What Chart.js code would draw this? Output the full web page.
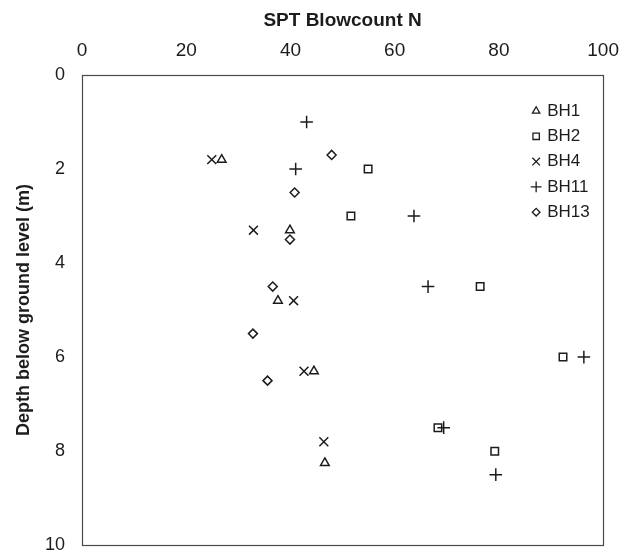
<!DOCTYPE html>
<html>
<head>
<meta charset="utf-8">
<script src="https://cdn.jsdelivr.net/npm/chart.js@4/dist/chart.umd.min.js"></script>
<style>
  html, body { margin: 0; padding: 0; background: #fff; overflow: hidden; }
  #frame { width: 623px; height: 551px; overflow: hidden; }
  #holder { position: relative; width: 632px; height: 573px; }
</style>
</head>
<body>
<div id="frame"><div id="holder"><canvas id="chart"></canvas></div></div>
<script>
// SPT blowcount N against depth, per borehole
const boreholes = ["BH1", "BH2", "BH4", "BH11", "BH13"];
const blowTicks = [0, 20, 40, 60, 80, 100];
const depthTicks = [0, 2, 4, 6, 8, 10];

const bh1N = [26.8, 39.9, 37.6, 44.5, 46.6];
const bh1Depth = [1.8, 3.3, 4.8, 6.3, 8.25];

const bh2N = [54.9, 51.6, 76.4, 92.3, 68.3, 79.2];
const bh2Depth = [2.0, 3.0, 4.5, 6.0, 7.5, 8.0];

const bh4N = [24.9, 32.9, 40.6, 42.6, 46.4];
const bh4Depth = [1.8, 3.3, 4.8, 6.3, 7.8];

const bh11N = [43.1, 41.0, 63.7, 66.4, 96.3, 69.4, 79.4];
const bh11Depth = [1.0, 2.0, 3.0, 4.5, 6.0, 7.5, 8.5];

const bh13N = [47.9, 40.8, 39.9, 36.6, 32.8, 35.6];
const bh13Depth = [1.7, 2.5, 3.5, 4.5, 5.5, 6.5];

const inkColor = "#1c1c1c";
const fontFamily = "'Liberation Sans', Arial, sans-serif";

const markerStyles = [
  { pointStyle: "triangle", radius: 5 },
  { pointStyle: "rect", radius: 5.3 },
  { pointStyle: "crossRot", radius: 6.3 },
  { pointStyle: "cross", radius: 6.3 },
  { pointStyle: "rectRot", radius: 4.5 }
];

function toPoints(xs, ys) {
  return xs.map((x, i) => ({ x: x, y: ys[i] }));
}

const seriesData = [
  toPoints(bh1N, bh1Depth),
  toPoints(bh2N, bh2Depth),
  toPoints(bh4N, bh4Depth),
  toPoints(bh11N, bh11Depth),
  toPoints(bh13N, bh13Depth)
];

const datasets = boreholes.map((name, i) => ({
  label: name,
  data: seriesData[i],
  pointStyle: markerStyles[i].pointStyle,
  pointRadius: markerStyles[i].radius,
  pointBorderWidth: 1.5,
  pointBorderColor: inkColor,
  pointBackgroundColor: "rgba(0,0,0,0)",
  showLine: false
}));

// full box round the plot area
const plotBox = {
  id: "plotBox",
  beforeDatasetsDraw(chart) {
    const a = chart.chartArea;
    const ctx = chart.ctx;
    ctx.save();
    ctx.strokeStyle = "#4a4a4a";
    ctx.lineWidth = 1.2;
    ctx.strokeRect(Math.round(a.left) + 0.5, Math.round(a.top) + 0.5,
      Math.round(a.right - a.left), Math.round(a.bottom - a.top));
    ctx.restore();
  }
};

// legend sits inside the plot, top right
const insideLegend = {
  id: "insideLegend",
  afterDatasetsDraw(chart) {
    const a = chart.chartArea;
    const ctx = chart.ctx;
    const markX = a.right - 67;
    const textX = a.right - 56;
    let y = a.top + 36;
    ctx.save();
    ctx.font = "17px " + fontFamily;
    ctx.textBaseline = "middle";
    ctx.textAlign = "left";
    chart.data.datasets.forEach((ds) => {
      ctx.strokeStyle = inkColor;
      ctx.fillStyle = "rgba(0,0,0,0)";
      ctx.lineWidth = 1.3;
      Chart.helpers.drawPoint(ctx, {
        pointStyle: ds.pointStyle,
        radius: ds.pointRadius * 0.85,
        rotation: 0,
        borderWidth: 1.3
      }, markX, y);
      ctx.fillStyle = inkColor;
      ctx.fillText(ds.label, textX, y);
      y += 25.3;
    });
    ctx.restore();
  }
};

new Chart(document.getElementById("chart"), {
  type: "scatter",
  data: { datasets: datasets },
  options: {
    responsive: true,
    maintainAspectRatio: false,
    animation: false,
    events: [],
    layout: { padding: { top: 9, left: 13, right: 0, bottom: 0 } },
    plugins: {
      legend: { display: false },
      tooltip: { enabled: false }
    },
    scales: {
      x: {
        type: "linear",
        position: "top",
        min: 0,
        max: 100,
        afterBuildTicks: (s) => { s.ticks = blowTicks.map((v) => ({ value: v })); },
        afterFit: (s) => { s.height = 66; },
        grid: { display: false, drawTicks: false },
        border: { display: false },
        ticks: {
          padding: 13,
          color: inkColor,
          font: { family: fontFamily, size: 19 }
        },
        title: {
          display: true,
          text: "SPT Blowcount N",
          color: inkColor,
          padding: { top: 0, bottom: 8 },
          font: { family: fontFamily, size: 19, weight: "bold" }
        }
      },
      y: {
        type: "linear",
        reverse: true,
        min: 0,
        max: 10,
        afterBuildTicks: (s) => { s.ticks = depthTicks.map((v) => ({ value: v })); },
        afterFit: (s) => { s.width = 69; },
        grid: { display: false, drawTicks: false },
        border: { display: false },
        ticks: {
          padding: 17,
          color: inkColor,
          font: { family: fontFamily, size: 18 }
        },
        title: {
          display: true,
          text: "Depth below ground level (m)",
          color: inkColor,
          padding: { top: 0, bottom: 10 },
          font: { family: fontFamily, size: 18, weight: "bold" }
        }
      }
    }
  },
  plugins: [plotBox, insideLegend]
});
</script>
</body>
</html>
